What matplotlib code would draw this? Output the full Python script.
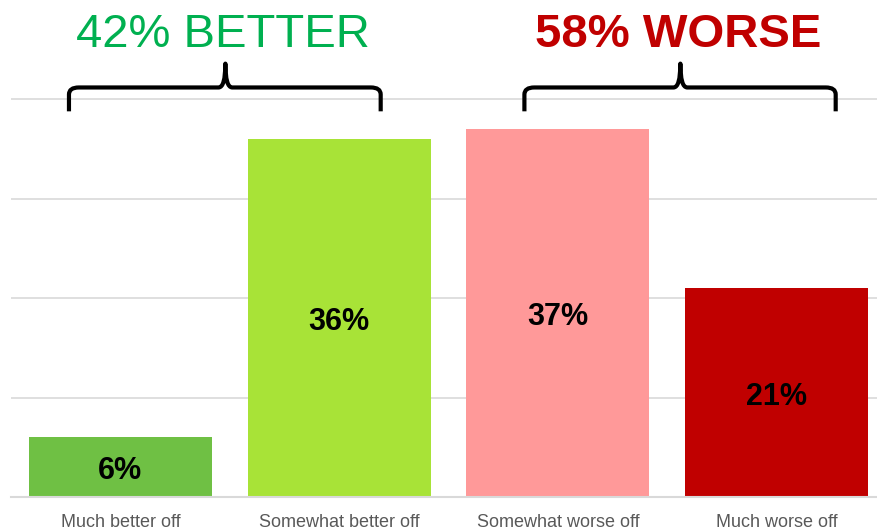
import matplotlib
matplotlib.use("Agg")
import matplotlib.pyplot as plt
from matplotlib.path import Path
from matplotlib.patches import PathPatch
from matplotlib.transforms import ScaledTranslation

plt.rcParams['font.family'] = ['Liberation Sans', 'DejaVu Sans']

categories = ["Much better off", "Somewhat better off", "Somewhat worse off", "Much worse off"]
values = [6, 36, 37, 21]
colors = ["#6fc044", "#a8e337", "#ff9999", "#c00000"]
group_titles = ["42% BETTER", "58% WORSE"]
title_colors = ["#00b050", "#c00000"]
title_weights = ["normal", "bold"]

fig = plt.figure(figsize=(8.78, 5.28), dpi=100)
ax = fig.add_axes([11/878, 31/528, 875/878, 497/528])

x = list(range(len(categories)))
ax.bar(x, values, width=0.837, color=colors, zorder=2)
shift = ax.transData + ScaledTranslation(0, -4/100, fig.dpi_scale_trans)
for xi, v in zip(x, values):
    ax.text(xi, v / 2, f"{v}%", ha="center", va="center", fontsize=22,
            fontweight="bold", color="black", zorder=3, transform=shift)

ax.set_xlim(-0.5, 3.5)
ax.set_ylim(0, 50)
ax.set_yticks([0, 10, 20, 30, 40])
ax.yaxis.grid(True, color="#d9d9d9", linewidth=1.2, zorder=0)
ax.set_axisbelow(True)
ax.tick_params(axis="y", left=False, labelleft=False)
ax.tick_params(axis="x", bottom=False, pad=8.5, labelsize=13, labelcolor="#595959")
ax.set_xticks(x)
ax.set_xticklabels(categories)
for s in ["top", "right", "left"]:
    ax.spines[s].set_visible(False)
ax.spines["bottom"].set_color("#d9d9d9")
ax.spines["bottom"].set_linewidth(1.5)


def bracket(x0, x1, xm, y_end=38.8, y_h=41.2, y_peak=43.6, rx=0.045, ry=0.7):
    verts = [
        (x0, y_end), (x0, y_h - ry),
        (x0, y_h), (x0 + rx, y_h),
        (xm - rx * 0.7, y_h),
        (xm, y_h), (xm, y_peak),
        (xm, y_h), (xm + rx * 0.7, y_h),
        (x1 - rx, y_h),
        (x1, y_h), (x1, y_h - ry),
        (x1, y_end),
    ]
    codes = [Path.MOVETO, Path.LINETO,
             Path.CURVE3, Path.CURVE3,
             Path.LINETO,
             Path.CURVE3, Path.CURVE3,
             Path.CURVE3, Path.CURVE3,
             Path.LINETO,
             Path.CURVE3, Path.CURVE3,
             Path.LINETO]
    p = PathPatch(Path(verts, codes), fill=False, edgecolor="black",
                  linewidth=3.0, capstyle="butt", joinstyle="round",
                  clip_on=False, zorder=4)
    ax.add_patch(p)


brackets = [(-0.235, 1.19, 0.48), (1.847, 3.27, 2.56)]
for (b0, b1, bm), t, c, w in zip(brackets, group_titles, title_colors, title_weights):
    bracket(b0, b1, bm)
    ax.text(bm - 0.01, 45.3, t, ha="center", va="baseline", fontsize=34,
            color=c, fontweight=w, clip_on=False)

fig.savefig("out.png", dpi=100)
